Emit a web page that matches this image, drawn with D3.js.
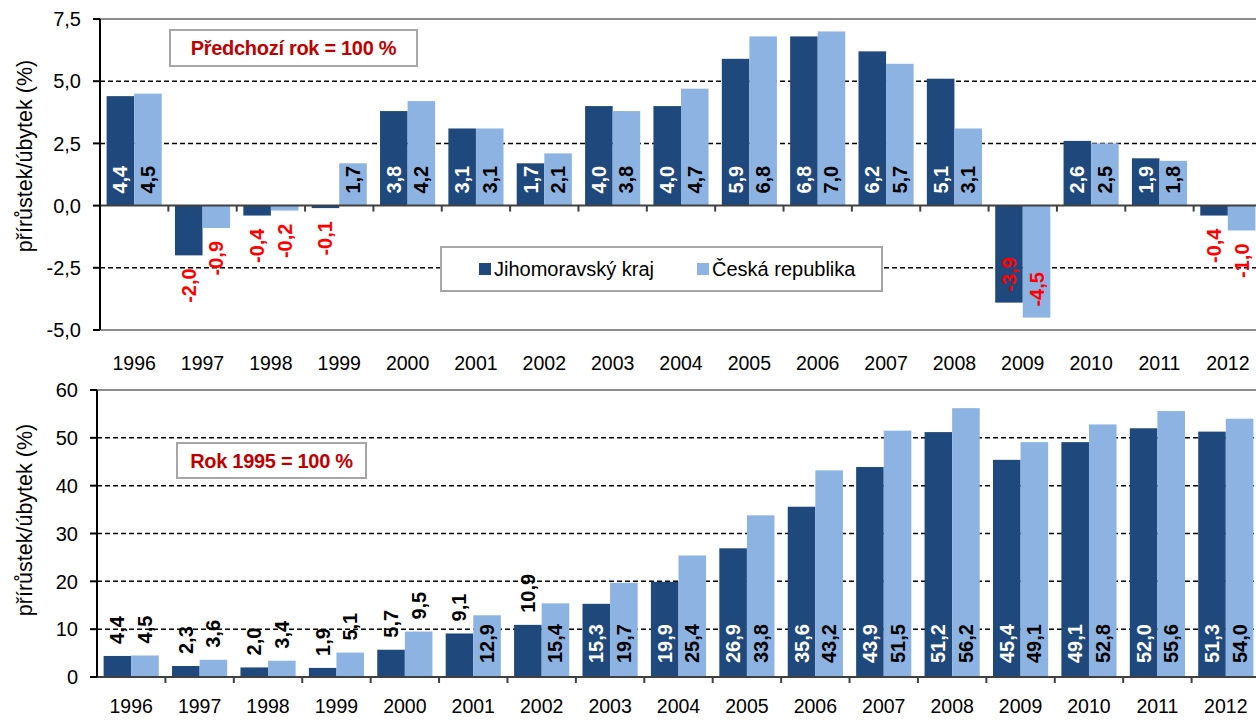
<!DOCTYPE html>
<html>
<head>
<meta charset="utf-8">
<script src="https://cdn.jsdelivr.net/npm/d3@7"></script>
<style>
body { margin: 0; background: #fff; }
text { font-family: "Liberation Sans", Arial, sans-serif; }
</style>
</head>
<body>
<script>
var years = ["1996","1997","1998","1999","2000","2001","2002","2003","2004","2005","2006","2007","2008","2009","2010","2011","2012"];
var seriesNames = ["Jihomoravský kraj", "Česká republika"];

// predchozi rok = 100 %
var jmkPrev = [4.4, -2.0, -0.4, -0.1, 3.8, 3.1, 1.7, 4.0, 4.0, 5.9, 6.8, 6.2, 5.1, -3.9, 2.6, 1.9, -0.4];
var crPrev  = [4.5, -0.9, -0.2, 1.7, 4.2, 3.1, 2.1, 3.8, 4.7, 6.8, 7.0, 5.7, 3.1, -4.5, 2.5, 1.8, -1.0];

// rok 1995 = 100 %
var jmkBase = [4.4, 2.3, 2.0, 1.9, 5.7, 9.1, 10.9, 15.3, 19.9, 26.9, 35.6, 43.9, 51.2, 45.4, 49.1, 52.0, 51.3];
var crBase  = [4.5, 3.6, 3.4, 5.1, 9.5, 12.9, 15.4, 19.7, 25.4, 33.8, 43.2, 51.5, 56.2, 49.1, 52.8, 55.6, 54.0];

var topTicks = [-5, -2.5, 0, 2.5, 5, 7.5];
var bottomTicks = [0, 10, 20, 30, 40, 50, 60];

var darkblue = "#1f497d";
var lightblue = "#8db3e2";
var red = "#ff0000";
var boxred = "#c00000";
var comma = v => String(v).replace(".", ",");

var svg = d3.select("body")
	.append("svg")
	.attr("width", 1256)
	.attr("height", 720)

function drawPanel(p) {
	var g = svg.append("g");
	var x0 = d3.scaleBand().domain(years).range([p.left, p.right]);
	var x1 = d3.scaleBand().domain(seriesNames).range([0, x0.bandwidth()]).paddingOuter(0.24);
	var y = d3.scaleLinear().domain(p.domain).range([p.bottom, p.top]);

	// grid
	g.selectAll(".grid").data(p.ticks.filter(t => t != 0 && t != p.domain[0] && t != p.domain[1]))
		.enter().append("line")
		.attr("x1", p.left).attr("x2", 1256)
		.attr("y1", d => y(d)).attr("y2", d => y(d))
		.style("stroke", "#000").style("stroke-width", 1.5).style("stroke-dasharray", "5,3")
	g.selectAll(".border").data(p.domain.filter(t => t != 0))
		.enter().append("line")
		.attr("x1", p.left).attr("x2", 1256)
		.attr("y1", d => y(d)).attr("y2", d => y(d))
		.style("stroke", "#8c8c8c").style("stroke-width", 2)

	var rows = [];
	years.forEach((yr, i) => {
		rows.push({year: yr, s: 0, v: p.a[i]});
		rows.push({year: yr, s: 1, v: p.b[i]});
	});

	g.selectAll(".bar").data(rows).enter().append("rect")
		.attr("x", d => x0(d.year) + x1(seriesNames[d.s]))
		.attr("width", x1.bandwidth())
		.attr("y", d => y(Math.max(0, d.v)))
		.attr("height", d => Math.abs(y(d.v) - y(0)))
		.style("fill", d => d.s == 0 ? darkblue : lightblue)

	// axes
	g.append("line")
		.attr("x1", p.left).attr("x2", 1256)
		.attr("y1", y(0)).attr("y2", y(0))
		.style("stroke", "#404040").style("stroke-width", 2)
	g.selectAll(".xtick").data(years.slice(1)).enter().append("line")
		.attr("x1", d => x0(d)).attr("x2", d => x0(d))
		.attr("y1", y(0)).attr("y2", y(0) + 6)
		.style("stroke", "#404040").style("stroke-width", 2)
	g.append("line")
		.attr("x1", p.left).attr("x2", p.left)
		.attr("y1", p.top).attr("y2", p.bottom)
		.style("stroke", "#000").style("stroke-width", 2)
	g.selectAll(".ytick").data(p.ticks).enter().append("line")
		.attr("x1", p.left - 7).attr("x2", p.left)
		.attr("y1", d => y(d)).attr("y2", d => y(d))
		.style("stroke", "#000").style("stroke-width", 2)
	g.selectAll(".ylab").data(p.ticks).enter().append("text")
		.attr("x", p.left - 19)
		.attr("y", d => y(d))
		.attr("dy", "0.36em")
		.attr("text-anchor", "end")
		.attr("font-size", "20px")
		.attr("fill", "#000")
		.text(p.fmt)
	g.selectAll(".xlab").data(years).enter().append("text")
		.attr("x", d => x0(d) + x0.bandwidth() / 2)
		.attr("y", p.xlabY)
		.attr("text-anchor", "middle")
		.attr("font-size", "19.5px")
		.attr("fill", "#000")
		.text(d => d)
	g.append("text")
		.attr("transform", `translate(25,${p.titleY}) rotate(-90)`)
		.attr("text-anchor", "middle")
		.attr("dominant-baseline", "central")
		.attr("font-size", "21.5px")
		.attr("fill", "#000")
		.text("přírůstek/úbytek (%)")

	// data labels
	g.selectAll(".dlab").data(rows).enter().append("text")
		.attr("transform", d => {
			var cx = x0(d.year) + x1(seriesNames[d.s]) + x1.bandwidth() / 2;
			return `translate(${cx},${p.labelPos(d, y)[0]}) rotate(-90)`;
		})
		.attr("text-anchor", d => p.labelPos(d, y)[1])
		.attr("dominant-baseline", "central")
		.attr("font-size", "20px")
		.attr("font-weight", "bold")
		.attr("fill", d => p.labelColor(d))
		.text(d => comma(d.v.toFixed(1)))

	// note box
	g.append("rect")
		.attr("x", p.box[0]).attr("y", p.box[1])
		.attr("width", p.box[2]).attr("height", p.box[3])
		.style("fill", "#fff").style("stroke", "#a6a6a6").style("stroke-width", 2)
	g.append("text")
		.attr("x", p.box[0] + p.box[2] / 2)
		.attr("y", p.box[1] + p.box[3] / 2)
		.attr("dy", "0.36em")
		.attr("text-anchor", "middle")
		.attr("font-size", "20px")
		.attr("font-weight", "bold")
		.attr("letter-spacing", "-0.3px")
		.attr("fill", boxred)
		.text(p.note)
}

drawPanel({
	left: 100, right: 1262, top: 19, bottom: 330,
	domain: [-5, 7.5], ticks: topTicks,
	a: jmkPrev, b: crPrev,
	fmt: d => comma(d.toFixed(1)),
	xlabY: 370, titleY: 156,
	labelPos: (d, y) => {
		if (d.v >= 0) return [y(0) - 12, "start"];
		if (d.v > -3) return [y(d.v) + 13, "end"];
		return [y(d.v) - 11, "start"];
	},
	labelColor: d => d.v < 0 ? red : (d.s == 0 ? "#fff" : "#000"),
	box: [170, 30, 247, 36],
	note: "Předchozí rok = 100 %"
});

drawPanel({
	left: 97, right: 1260, top: 390, bottom: 677,
	domain: [0, 60], ticks: bottomTicks,
	a: jmkBase, b: crBase,
	fmt: d => d,
	xlabY: 713, titleY: 520,
	labelPos: (d, y) => d.v <= 11 ? [y(d.v) - 12, "start"] : [y(0) - 14, "start"],
	labelColor: d => d.v <= 11 ? "#000" : (d.s == 0 ? "#fff" : "#000"),
	box: [177, 443, 189, 35],
	note: "Rok 1995 = 100 %"
});

// legend
var legend = svg.append("g");
legend.append("rect")
	.attr("x", 441).attr("y", 247).attr("width", 441).attr("height", 44)
	.style("fill", "#fff").style("stroke", "#a6a6a6").style("stroke-width", 2)
var items = legend.selectAll(".item").data(seriesNames).enter().append("g")
	.attr("transform", (d, i) => `translate(${i == 0 ? 479 : 697},263)`)
items.append("rect")
	.attr("width", 12).attr("height", 12)
	.style("fill", (d, i) => i == 0 ? darkblue : lightblue)
items.append("text")
	.attr("x", 15).attr("y", 13)
	.attr("font-size", "20px")
	.attr("fill", "#000")
	.text(d => d)
</script>
</body>
</html>
